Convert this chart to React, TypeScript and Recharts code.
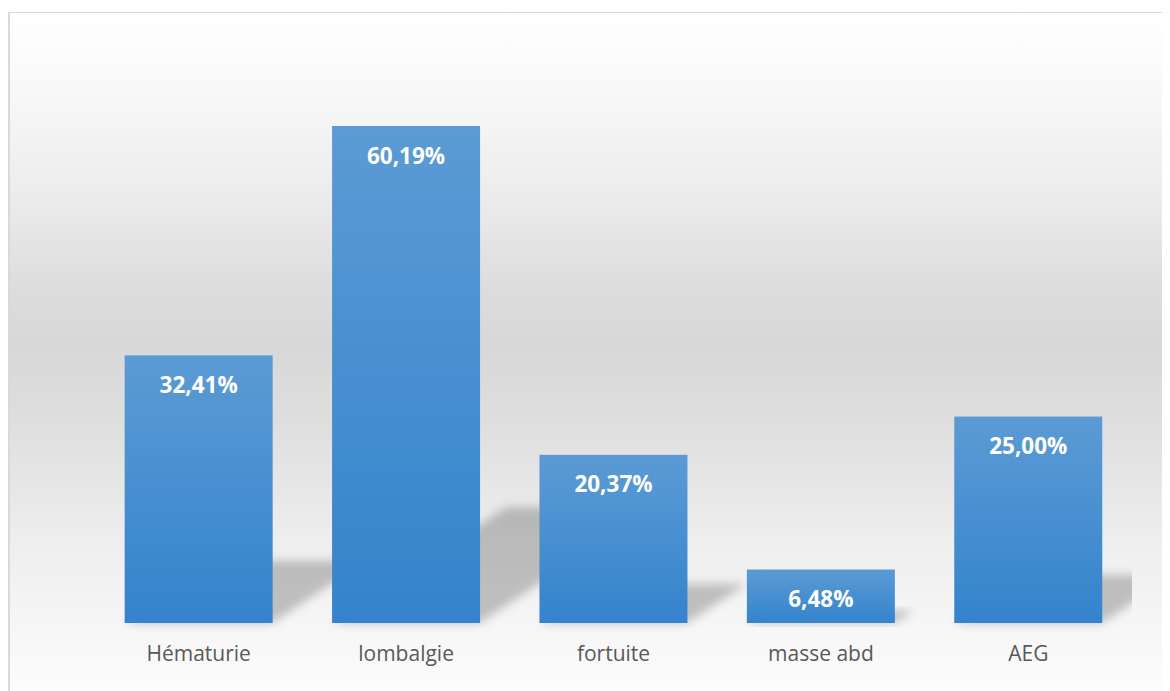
import React from "react";
import { BarChart, Bar, XAxis, YAxis, LabelList } from "recharts";

const categories = ["Hématurie", "lombalgie", "fortuite", "masse abd", "AEG"];
const values = [32.41, 60.19, 20.37, 6.48, 25.0];

const data = categories.map((name, i) => ({ name, value: values[i] }));

const fmt = (v: number) => v.toFixed(2).replace(".", ",") + "%";

const CHART_W = 1160;
const CHART_H = 677;
const MARGIN = { top: 32, right: 38, left: 85, bottom: 27 };

const BarWithShadow = (props: any) => {
  const { x, y, width, height } = props;
  const base = y + height;
  const k = 0.35;
  const s = 0.233;
  const dx = k * height;
  const dy = s * height;
  const pts = [
    [x, base],
    [x + width, base],
    [x + width + dx, base - dy],
    [x + dx, base - dy],
  ]
    .map((p) => p.join(","))
    .join(" ");
  return (
    <g>
      <g clipPath="url(#plotClip)">
        <polygon points={pts} fill="#000" fillOpacity={0.22} filter="url(#shadowBlur)" />
      </g>
      <rect x={x} y={y} width={width} height={height} fill="url(#barGrad)" />
    </g>
  );
};

const ValueLabel = (props: any) => {
  const { x, y, width, value } = props;
  return (
    <text
      x={x + width / 2}
      y={y + 29}
      textAnchor="middle"
      dominantBaseline="central"
      fill="#ffffff"
      fontFamily="'Open Sans', sans-serif"
      fontWeight={700}
      fontSize={22.5}
    >
      {fmt(value)}
    </text>
  );
};

export default function App() {
  return (
    <div
      style={{
        marginTop: 4,
        width: 1160,
        height: 678,
        borderLeft: "2px solid #d9d9d9",
        borderTop: "1px solid #d9d9d9",
        background:
          "linear-gradient(to bottom, #ffffff 0%, #f8f8f8 12%, #ebebeb 28%, #dddddd 40%, #d8d8d8 49%, #dedede 60%, #eeeeee 78%, #f6f6f6 90%, #fcfcfc 100%)",
        overflow: "hidden",
      }}
    >
      <BarChart
        width={CHART_W}
        height={CHART_H}
        data={data}
        margin={MARGIN}
        barCategoryGap="14.3%"
      >
        <defs>
          <linearGradient id="barGrad" x1="0" y1="0" x2="0" y2="1">
            <stop offset="0%" stopColor="#5b9bd5" />
            <stop offset="100%" stopColor="#3483cc" />
          </linearGradient>
          <filter id="shadowBlur" x="-30%" y="-30%" width="160%" height="160%">
            <feGaussianBlur stdDeviation="5" />
          </filter>
          <clipPath id="plotClip">
            <rect x={0} y={0} width={CHART_W - MARGIN.right} height={CHART_H} />
          </clipPath>
        </defs>
        <XAxis
          dataKey="name"
          axisLine={false}
          tickLine={false}
          tickSize={0}
          tickMargin={23}
          height={40}
          interval={0}
          tick={{ fill: "#595959", fontSize: 21, fontFamily: "'Open Sans', sans-serif" }}
        />
        <YAxis hide domain={[0, 70]} />
        <Bar dataKey="value" isAnimationActive={false} shape={<BarWithShadow />}>
          <LabelList dataKey="value" content={<ValueLabel />} />
        </Bar>
      </BarChart>
    </div>
  );
}
